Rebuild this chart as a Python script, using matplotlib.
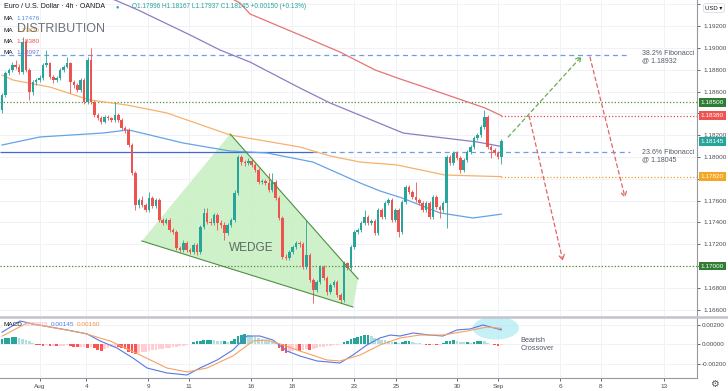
import numpy as np
import matplotlib
matplotlib.use("Agg")
import matplotlib.pyplot as plt
from matplotlib.patches import Polygon, Ellipse
from matplotlib.lines import Line2D

# EUR/USD 4h candles (bar index 0 = first visible bar)
first_open = 1.18431
close = [
    1.18569, 1.18771, 1.18798, 1.18844, 1.18826, 1.18780, 1.19055, 1.18798, 1.18596, 1.18688,
    1.18706, 1.18725, 1.18844, 1.18862, 1.18734, 1.18706, 1.18725, 1.18798, 1.18826, 1.18862,
    1.18688, 1.18661, 1.18615, 1.18706, 1.18505, 1.18890, 1.18505, 1.18385, 1.18358, 1.18321,
    1.18367, 1.18358, 1.18340, 1.18385, 1.18340, 1.18266, 1.18248, 1.18110, 1.17854, 1.17560,
    1.17606, 1.17560, 1.17514, 1.17624, 1.17551, 1.17606, 1.17423, 1.17395, 1.17423, 1.17331,
    1.17313, 1.17166, 1.17148, 1.17212, 1.17148, 1.17129, 1.17193, 1.17129, 1.17358, 1.17487,
    1.17404, 1.17395, 1.17468, 1.17395, 1.17377, 1.17303, 1.17377, 1.17423, 1.17670, 1.18000,
    1.17954, 1.17945, 1.17964, 1.17927, 1.17881, 1.17771, 1.17780, 1.17762, 1.17698, 1.17771,
    1.17624, 1.17441, 1.17083, 1.17078, 1.17129, 1.17175, 1.17212, 1.17203, 1.16992, 1.17102,
    1.16872, 1.16781, 1.16854, 1.16992, 1.16891, 1.16762, 1.16827, 1.16854, 1.16735, 1.16689,
    1.17028, 1.16982, 1.17175, 1.17313, 1.17331, 1.17395, 1.17450, 1.17395, 1.17413, 1.17303,
    1.17514, 1.17450, 1.17579, 1.17606, 1.17423, 1.17514, 1.17313, 1.17588, 1.17725, 1.17679,
    1.17634, 1.17606, 1.17579, 1.17514, 1.17579, 1.17450, 1.17634, 1.17542, 1.17514, 1.17579,
    1.18000, 1.17945, 1.18037, 1.17991, 1.17881, 1.17973, 1.18046, 1.18092, 1.18175, 1.18202,
    1.18275, 1.18367, 1.18092, 1.18065, 1.18037, 1.17996, 1.18145,
]
high = [
    1.18587, 1.18789, 1.18816, 1.18871, 1.18890, 1.18853, 1.19101, 1.19073, 1.18816, 1.18706,
    1.18725, 1.18752, 1.18862, 1.18982, 1.18871, 1.18752, 1.18743, 1.18816, 1.18844, 1.18917,
    1.18871, 1.18706, 1.18679, 1.18725, 1.18725, 1.18917, 1.19000, 1.18523, 1.18404, 1.18376,
    1.18385, 1.18385, 1.18367, 1.18505, 1.18404, 1.18358, 1.18285, 1.18266, 1.18129, 1.17872,
    1.17624, 1.17643, 1.17579, 1.17679, 1.17643, 1.17624, 1.17624, 1.17441, 1.17441, 1.17441,
    1.17349, 1.17331, 1.17184, 1.17239, 1.17230, 1.17166, 1.17212, 1.17212, 1.17377, 1.17533,
    1.17533, 1.17441, 1.17487, 1.17487, 1.17423, 1.17404, 1.17395, 1.17441, 1.17698, 1.18019,
    1.18019, 1.17973, 1.17991, 1.17982, 1.17945, 1.17899, 1.17799, 1.17799, 1.17854, 1.17854,
    1.17789, 1.17643, 1.17459, 1.17111, 1.17148, 1.17193, 1.17230, 1.17230, 1.17221, 1.17423,
    1.17120, 1.16891, 1.16872, 1.17010, 1.17010, 1.16909, 1.16845, 1.16872, 1.16872, 1.16753,
    1.17047, 1.17038, 1.17193, 1.17331, 1.17349, 1.17413, 1.17514, 1.17468, 1.17432, 1.17432,
    1.17533, 1.17533, 1.17597, 1.17624, 1.17624, 1.17533, 1.17533, 1.17606, 1.17744, 1.17744,
    1.17698, 1.17771, 1.17624, 1.17597, 1.17597, 1.17597, 1.17652, 1.17652, 1.17560, 1.17597,
    1.18019, 1.18019, 1.18055, 1.18055, 1.18010, 1.17991, 1.18065, 1.18110, 1.18193, 1.18220,
    1.18294, 1.18431, 1.18385, 1.18110, 1.18083, 1.18055, 1.18167,
]
low = [
    1.18404, 1.18551, 1.18752, 1.18780, 1.18807, 1.18761, 1.18761, 1.18780, 1.18523, 1.18569,
    1.18661, 1.18688, 1.18706, 1.18826, 1.18716, 1.18679, 1.18688, 1.18706, 1.18780, 1.18816,
    1.18587, 1.18633, 1.18596, 1.18596, 1.18486, 1.18486, 1.18486, 1.18367, 1.18340, 1.18303,
    1.18312, 1.18340, 1.18321, 1.18321, 1.18321, 1.18248, 1.18220, 1.18092, 1.17835, 1.17514,
    1.17533, 1.17542, 1.17496, 1.17496, 1.17533, 1.17533, 1.17404, 1.17377, 1.17386, 1.17313,
    1.17294, 1.17148, 1.17129, 1.17129, 1.17129, 1.17111, 1.17111, 1.17102, 1.17111, 1.17340,
    1.17386, 1.17377, 1.17377, 1.17331, 1.17349, 1.17239, 1.17285, 1.17358, 1.17404, 1.17652,
    1.17927, 1.17918, 1.17927, 1.17909, 1.17863, 1.17753, 1.17753, 1.17744, 1.17679, 1.17679,
    1.17606, 1.17423, 1.17065, 1.17056, 1.17056, 1.17111, 1.17157, 1.17175, 1.16973, 1.16973,
    1.16854, 1.16662, 1.16762, 1.16836, 1.16872, 1.16735, 1.16744, 1.16808, 1.16717, 1.16662,
    1.16671, 1.16964, 1.16964, 1.17157, 1.17294, 1.17313, 1.17377, 1.17377, 1.17377, 1.17285,
    1.17285, 1.17432, 1.17432, 1.17560, 1.17404, 1.17404, 1.17267, 1.17294, 1.17569, 1.17661,
    1.17615, 1.17588, 1.17560, 1.17496, 1.17496, 1.17432, 1.17432, 1.17524, 1.17441, 1.17496,
    1.17349, 1.17927, 1.17927, 1.17973, 1.17854, 1.17863, 1.17954, 1.18028, 1.18074, 1.18156,
    1.18184, 1.18257, 1.18074, 1.17991, 1.18019, 1.17982, 1.17937,
]

# moving averages, read at a few bars
ma_blue_x = [0, 11.1, 29.5, 36.8, 38.3, 52.9, 66.7, 77.5, 90.9, 104.7, 110.5, 117.0, 128.1, 137.7, 146]
ma_blue = [1.18110, 1.18184, 1.18220, 1.18248, 1.18239, 1.18129, 1.18055, 1.18037, 1.17954,
           1.17762, 1.17689, 1.17624, 1.17487, 1.17441, 1.17476]
ma_orange_x = [0, 3.2, 14.0, 25.7, 36.5, 48.2, 66.7, 87.1, 95.9, 104.7, 115.5, 129.5, 146]
ma_orange = [1.18752, 1.18706, 1.18642, 1.18523, 1.18477, 1.18404, 1.18202, 1.18092, 1.18010,
             1.17954, 1.17927, 1.17835, 1.17820]
ma_purple_x = [28.7, 33.0, 39.8, 55.0, 63.7, 72.5, 87.1, 95.9, 117.3, 138.9, 146]
ma_purple = [1.19486, 1.19440, 1.19348, 1.19119, 1.18982, 1.18871, 1.18633, 1.18496, 1.18220,
             1.18138, 1.18097]
ma_red_x = [65.2, 69.6, 72.5, 87.1, 98.8, 109.1, 116.4, 125.1, 141.2, 146]
ma_red = [1.19486, 1.19412, 1.19312, 1.19119, 1.18963, 1.18798, 1.18716, 1.18624, 1.18450, 1.18380]

# MACD
macd_x = [0, 5.3, 9.1, 19.0, 24.9, 28.7, 33.6, 38.3, 42.4, 48.2, 54.1, 57.9, 62.9, 67.5, 71.6,
          75.4, 79.2, 83.3, 87.1, 92.1, 98.8, 102.6, 106.7, 110.5, 113.5, 116.4, 120.2, 125.1,
          128.9, 133.0, 136.8, 140.6, 146]
macd_line = [0.00120, 0.00236, 0.00205, 0.00144, 0.00103, 0.00031, -0.00041, -0.00144, -0.00246,
             -0.00297, -0.00318, -0.00246, -0.00164, -0.00062, 0.00082, 0.00082, 0.00041, -0.00072,
             -0.00123, -0.00174, -0.00195, -0.00113, -0.00010, 0.00062, 0.00092, 0.00082, 0.00113,
             0.00092, 0.00082, 0.00144, 0.00154, 0.00195, 0.00145]
signal_x = [0, 7.3, 14.0, 23.7, 31.6, 40.4, 48.2, 54.1, 59.9, 67.5, 73.4, 77.5, 82.2, 87.1, 95.0,
            98.8, 104.7, 110.5, 116.4, 122.2, 128.9, 135.9, 141.8, 146]
signal_line = [0.00080, 0.00215, 0.00174, 0.00113, 0.00031, -0.00113, -0.00246, -0.00287, -0.00246,
               -0.00123, 0.00031, 0.00041, -0.00010, -0.00072, -0.00164, -0.00174, -0.00113,
               -0.00010, 0.00062, 0.00092, 0.00092, 0.00133, 0.00174, 0.00160]
hist = [
    0.00050, 0.00060, 0.00065, 0.00070, 0.00070, 0.00060, 0.00050, 0.00040, 0.00030, 0.00015,
    -0.00010, -0.00015, -0.00020, -0.00015, -0.00020, -0.00020, -0.00025, -0.00020, -0.00020, -0.00015,
    -0.00020, -0.00030, -0.00035, -0.00035, -0.00030, -0.00040, -0.00030, -0.00045, -0.00060, -0.00070,
    -0.00050, -0.00040, -0.00035, -0.00030, -0.00035, -0.00040, -0.00050, -0.00080, -0.00095, -0.00100,
    -0.00090, -0.00085, -0.00080, -0.00070, -0.00065, -0.00060, -0.00055, -0.00050, -0.00045, -0.00040,
    -0.00035, -0.00030, -0.00025, -0.00020, -0.00015, -0.00005, 0.00020, 0.00030, 0.00035, 0.00040,
    0.00045, 0.00045, 0.00040, 0.00035, 0.00030, 0.00030, 0.00025, 0.00030, 0.00050, 0.00080,
    0.00090, 0.00100, 0.00090, 0.00080, 0.00070, 0.00060, 0.00050, 0.00040, 0.00030, 0.00020,
    0.00010, -0.00040, -0.00070, -0.00090, -0.00080, -0.00070, -0.00060, -0.00070, -0.00065, -0.00050,
    -0.00060, -0.00050, -0.00040, -0.00035, -0.00030, -0.00025, -0.00020, -0.00015, -0.00010, -0.00005,
    0.00020, 0.00030, 0.00050, 0.00060, 0.00070, 0.00080, 0.00090, 0.00095, 0.00080, 0.00060,
    0.00050, 0.00045, 0.00040, 0.00030, 0.00020, 0.00020, 0.00015, 0.00020, 0.00030, 0.00030,
    0.00020, 0.00015, 0.00010, 0.00005, -0.00010, -0.00015, -0.00010, -0.00015, -0.00010, 0.00010,
    0.00030, 0.00035, 0.00040, 0.00035, 0.00025, 0.00020, 0.00020, 0.00015, 0.00020, 0.00030,
    0.00035, 0.00030, 0.00010, -0.00005, -0.00015, -0.00020, -0.00015,
]

# levels / drawings
fib_382 = 1.18932
fib_236 = 1.18045
res_1 = 1.18500
sup_1 = 1.17000
ma_red_last = 1.18380
ma_orange_last = 1.17820
wedge = [(40.9, 1.17230), (66.7, 1.18211), (104.1, 1.16882), (102.6, 1.16625)]
proj_green = [(148.0, 1.18184), (169.5, 1.18925)]
proj_red_1 = [(154.1, 1.18376), (164.0, 1.17047)]
proj_red_2 = [(171.9, 1.18917), (182.2, 1.17624)]

tick_pos = [11.1, 24.6, 42.7, 54.7, 72.8, 84.8, 102.9, 115.2, 133.0, 145.0, 163.2, 175.1, 193.6]
tick_lab = ["Aug", "4", "9", "11", "16", "18", "23", "25", "30", "Sep", "6", "8", "13"]

UP = "#26a69a"
DOWN = "#ef5350"
TXT = "#4a4d57"
GRID = "#f0f2f7"
plt.rcParams["font.family"] = ["Liberation Sans", "DejaVu Sans"]

W, H = 728, 391
fig = plt.figure(figsize=(W / 100, H / 100), dpi=100)
ax = fig.add_axes([0, 1 - 316 / H, 697 / W, 316 / H])
axm = fig.add_axes([0, 1 - 378 / H, 697 / W, 60 / H], sharex=ax)

XMIN, XMAX = -0.585, 203.2
ax.set_xlim(XMIN, XMAX)
ax.set_ylim(1.16542, 1.19440)
axm.set_ylim(-0.003487, 0.002667)

# grid
for a in (ax, axm):
    for t in tick_pos:
        a.axvline(t, color=GRID, lw=0.7, zorder=0)
price_ticks = np.round(np.arange(1.166, 1.1945, 0.002), 3)
for p in price_ticks:
    ax.axhline(p, color=GRID, lw=0.7, zorder=0)
for m in (0.002, 0.0, -0.002):
    axm.axhline(m, color=GRID, lw=0.7, zorder=0)

# wedge
ax.add_patch(Polygon(wedge, closed=True, facecolor="#c6efc0", edgecolor="none", alpha=0.85, zorder=1))
ax.plot([wedge[1][0], wedge[2][0]], [wedge[1][1], wedge[2][1]], color="#4f8f43", lw=0.8, zorder=4)
ax.plot([wedge[0][0], wedge[3][0]], [wedge[0][1], wedge[3][1]], color="#4f8f43", lw=0.8, zorder=4)
ax.text(73, 1.17168, "WEDGE", fontsize=8.5, color="#5b6b60", ha="center", va="center", zorder=5)

# horizontal levels
ax.hlines(fib_382, XMIN, 183.6, colors="#6d9eeb", lw=0.9, linestyles=(0, (4, 3)), zorder=2)
ax.hlines(fib_236, XMIN, 91.0, colors="#3e68d6", lw=0.9, zorder=2)
ax.hlines(fib_236, 91.0, 183.6, colors="#6d9eeb", lw=0.9, linestyles=(0, (4, 3)), zorder=2)
ax.hlines([res_1, sup_1], XMIN, XMAX, colors="#5b8c3a", lw=0.9, linestyles=(0, (1, 1.6)), zorder=2)
ax.hlines(ma_red_last, 146, XMAX, colors="#e8474a", lw=0.9, linestyles=(0, (1, 1.6)), zorder=2)
ax.hlines(ma_orange_last, 146, XMAX, colors="#f0a030", lw=0.9, linestyles=(0, (1, 1.6)), zorder=2)

# moving averages
ax.plot(ma_blue_x, ma_blue, color="#64a3e8", lw=0.9, zorder=2)
ax.plot(ma_orange_x, ma_orange, color="#f6b26b", lw=0.9, zorder=2)
ax.plot(ma_purple_x, ma_purple, color="#8e7cc3", lw=0.9, zorder=2)
ax.plot(ma_red_x, ma_red, color="#e57373", lw=0.9, zorder=2)

# candles
c = np.array(close)
o = np.concatenate([[first_open], c[:-1]])
h = np.maximum(np.array(high), np.maximum(o, c))
l = np.minimum(np.array(low), np.minimum(o, c))
x = np.arange(len(c))
cols = np.where(c >= o, UP, DOWN)
ax.vlines(x, l, h, colors=cols, lw=0.6, zorder=3)
body = np.maximum(np.abs(c - o), 0.00008)
ax.bar(x, body, bottom=np.minimum(o, c), width=0.74, color=cols, zorder=3, linewidth=0)

# projections
for seg, col in ((proj_green, "#6aaa5a"), (proj_red_1, "#e06666"), (proj_red_2, "#e06666")):
    ax.annotate("", xy=seg[1], xytext=seg[0],
                arrowprops=dict(arrowstyle="->,head_length=0.35,head_width=0.2", color=col,
                                lw=0.9, linestyle=(0, (3, 2.5)), shrinkA=0, shrinkB=0), zorder=4)

# fib labels
ax.text(187.0, 1.18917, "38.2% Fibonacci\n@ 1.18932", fontsize=5, color="#555a66",
        ha="left", va="center", linespacing=1.1)
ax.text(187.0, 1.18010, "23.6% Fibonacci\n@ 1.18045", fontsize=5, color="#555a66",
        ha="left", va="center", linespacing=1.1)

# right axis
ax.yaxis.tick_right()
hidden = {1.184, 1.178, 1.170, 1.194}
ax.set_yticks(price_ticks)
ax.set_yticklabels(["" if p in hidden else f"{p:.5f}" for p in price_ticks])
ax.tick_params(axis="y", labelsize=4.6, colors=TXT, length=2.5, width=0.6, pad=2)
ax.tick_params(axis="x", bottom=False, labelbottom=False)
for s in ("top", "left", "bottom"):
    ax.spines[s].set_visible(False)
ax.spines["right"].set_color("#9598a1")
ax.spines["right"].set_linewidth(0.8)

tags = [(res_1, "1.18500", "#2e7d32"), (ma_red_last, "1.18380", "#ef5350"),
        (close[-1], "1.18145", "#26a69a"), (ma_orange_last, "1.17820", "#f5a623"),
        (sup_1, "1.17000", "#2e7d32")]
for p, s, col in tags:
    ax.text(1.005, p, s, transform=ax.get_yaxis_transform(), fontsize=4.6, color="white",
            ha="left", va="center", clip_on=False,
            bbox=dict(boxstyle="square,pad=0.3", fc=col, ec="none"))

# MACD panel
hc = []
for i, v in enumerate(hist):
    prev = hist[i - 1] if i > 0 else v
    if v >= 0:
        hc.append("#26a69a" if v >= prev else "#b2dfdb")
    else:
        hc.append("#ff5252" if v < prev else "#ffcdd2")
axm.add_patch(Ellipse((144.4, 0.00164), 13.5, 0.00236, facecolor="#b2ebf2", edgecolor="none",
                      alpha=0.75, zorder=1))
axm.bar(x, hist, width=0.8, color=hc, linewidth=0, zorder=2)
axm.plot(macd_x, macd_line, color="#5877e6", lw=0.8, zorder=3)
axm.plot(signal_x, signal_line, color="#f5a262", lw=0.8, zorder=3)
axm.text(151.5, -0.00005, "Bearish\nCrossover", fontsize=5.3, color="#555a66", ha="left",
         va="center", linespacing=1.05)

axm.yaxis.tick_right()
axm.set_yticks([0.002, 0.0, -0.002])
axm.set_yticklabels(["0.00200", "0.00000", "-0.00200"])
axm.tick_params(axis="y", labelsize=4.5, colors=TXT, length=2, width=0.6, pad=1.5)
axm.set_xticks(tick_pos)
axm.set_xticklabels(tick_lab)
axm.tick_params(axis="x", labelsize=4.6, colors=TXT, length=2, width=0.6, pad=2)
for s in ("top", "left"):
    axm.spines[s].set_visible(False)
for s in ("right", "bottom"):
    axm.spines[s].set_color("#9598a1")
    axm.spines[s].set_linewidth(0.8)

# panel separator
fig.add_artist(Line2D([0, 1], [1 - 316.5 / H, 1 - 316.5 / H], color="#c2c4ca", lw=1.8))

# header / legends
fig.text(4 / W, 1 - 7 / H, "Euro / U.S. Dollar \u00b7 4h \u00b7 OANDA", fontsize=5, color="#131722", va="center")
fig.text(117 / W, 1 - 7 / H, "\u25cf", fontsize=4, color=UP, va="center", ha="center")
fig.text(132 / W, 1 - 7 / H, "O1.17996 H1.18167 L1.17937 C1.18145 +0.00150 (+0.13%)",
         fontsize=4.7, color=UP, va="center")
ma_leg = [("1.17476", "#4f8fe0"), ("1.17820", "#f0a030"), ("1.18380", "#e05555"), ("1.18097", "#7e6bc7")]
for k, (val, col) in enumerate(ma_leg):
    yy = 1 - (19 + 11.3 * k) / H
    fig.text(4 / W, yy, "MA", fontsize=4.6, color="#131722", va="center")
    fig.text(16 / W, yy, val, fontsize=4.6, color=col, va="center")
fig.text(61 / W, 1 - 28.5 / H, "DISTRIBUTION", fontsize=9, color="#5f6570", alpha=0.92,
         ha="center", va="center")

fig.text(4 / W, 1 - 324 / H, "MACD", fontsize=4.6, color="#131722", va="center")
fig.text(23 / W, 1 - 324 / H, "\u22120.00015", fontsize=4.4, color="#f7a8b8", va="center")
fig.text(51 / W, 1 - 324 / H, "0.00145", fontsize=4.6, color="#5877e6", va="center")
fig.text(77 / W, 1 - 324 / H, "0.00160", fontsize=4.6, color="#f0923e", va="center")

fig.text(714 / W, 1 - 8 / H, "USD \u25be", fontsize=4.3, color="#131722", ha="center", va="center",
         bbox=dict(boxstyle="round,pad=0.3", fc="white", ec="#d1d4dc", lw=0.5))
fig.text(714 / W, 1 - 384 / H, "\u2699", fontsize=7, color="#50535e", ha="center", va="center",
         family="DejaVu Sans")

fig.savefig("out.png", dpi=100)
